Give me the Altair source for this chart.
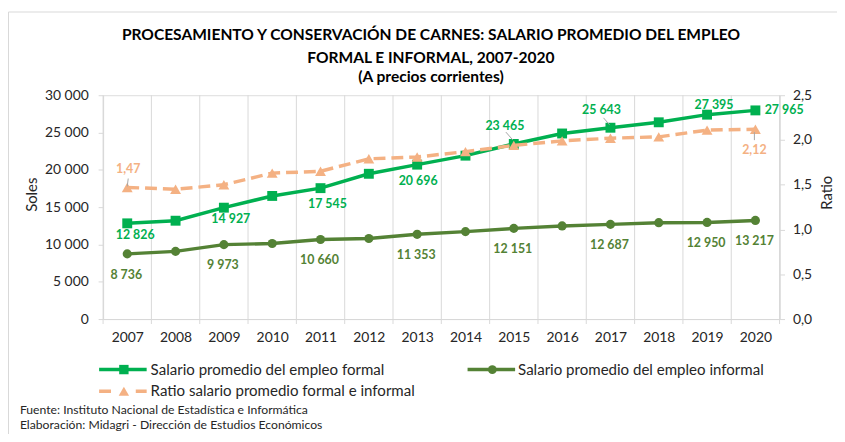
import altair as alt
import pandas as pd

# ---------------- data ----------------
years = list(range(2007, 2021))
formal = [12826, 13180, 14927, 16500, 17545, 19470, 20696, 21900, 23465, 24870, 25643, 26370, 27395, 27965]
informal = [8736, 9070, 9973, 10130, 10660, 10800, 11353, 11720, 12151, 12480, 12687, 12920, 12950, 13217]
ratio = [1.47, 1.45, 1.50, 1.63, 1.65, 1.79, 1.81, 1.87, 1.94, 1.99, 2.02, 2.035, 2.11, 2.12]

formal_labeled = [2007, 2009, 2011, 2013, 2015, 2017, 2019, 2020]
informal_labeled = [2007, 2009, 2011, 2013, 2015, 2017, 2019, 2020]
ratio_labeled = [2007, 2020]

left_ticks = [0, 5000, 10000, 15000, 20000, 25000, 30000]
right_ticks = [0, 0.5, 1.0, 1.5, 2.0, 2.5]

title_lines = [
    "PROCESAMIENTO Y CONSERVACIÓN DE CARNES: SALARIO PROMEDIO DEL EMPLEO",
    "FORMAL E INFORMAL, 2007-2020",
    "(A precios corrientes)",
]
legend_labels = [
    "Salario promedio del empleo formal",
    "Salario promedio del empleo informal",
    "Ratio salario promedio formal e informal",
]
footer_lines = [
    "Fuente: Instituto Nacional de Estadística e Informática",
    "Elaboración: Midagri - Dirección de Estudios Económicos",
]

# ---------------- styles ----------------
GREEN = "#00B050"
OLIVE = "#548235"
ORANGE = "#F4B183"
GRID = "#D9D9D9"
LEADER = "#A6A6A6"
TEXT = "#262626"
FONT = "Lato"
W, H = 683, 226

formal_off = {2007: (8, 12), 2009: (7, 11), 2011: (7, 16), 2013: (1, 17),
              2015: (-9, -18), 2017: (-9, -18), 2019: (7, -10), 2020: (29, 0)}
informal_off = {y: (-1, 21) for y in informal_labeled}
ratio_off = {2007: (1, -19), 2020: (-1, 21)}

# ---------------- tables ----------------
df = pd.DataFrame({"year": years, "formal": formal, "informal": informal, "ratio": ratio})
df["formal_lbl"] = [f"{v:,}".replace(",", " ") for v in formal]
df["informal_lbl"] = [f"{v:,}".replace(",", " ") for v in informal]
df["ratio_lbl"] = [f"{v:.2f}".replace(".", ",") for v in ratio]
bounds = pd.DataFrame({"year": [y - 0.5 for y in years] + [years[-1] + 0.5]})
one = pd.DataFrame({"k": [0]})

xscale = alt.Scale(domain=[years[0] - 0.5, years[-1] + 0.5], nice=False, zero=False)
xaxis = alt.Axis(values=years, format="d", grid=False, ticks=False, domain=True,
                 domainColor=GRID, labelFont=FONT, labelFontSize=14, labelColor=TEXT,
                 labelPadding=12, title=None)
X = alt.X("year:Q", scale=xscale, axis=xaxis)

left_axis = alt.Axis(values=left_ticks, grid=False, tickSize=5, tickColor=GRID, domainColor=GRID,
                     labelExpr="replace(format(datum.value, ','), ',', ' ')",
                     labelFont=FONT, labelFontSize=14, labelColor=TEXT, labelPadding=10,
                     title="Soles", titleFont=FONT, titleFontSize=15, titleFontWeight="normal",
                     titleColor=TEXT, titleX=-72, titleY=100, titleAngle=270,
                     titleAlign="center", titleBaseline="middle")
right_axis = alt.Axis(values=right_ticks, orient="right", grid=False, tickSize=5, tickColor=GRID,
                      domainColor=GRID,
                      labelExpr="replace(format(datum.value, '.1f'), '.', ',')",
                      labelFont=FONT, labelFontSize=14, labelColor=TEXT, labelPadding=8,
                      title="Ratio", titleFont=FONT, titleFontSize=15, titleFontWeight="normal",
                      titleColor=TEXT, titleX=47, titleY=98, titleAngle=270,
                      titleAlign="center", titleBaseline="middle")
lscale = alt.Scale(domain=[0, 30000], nice=False)
rscale = alt.Scale(domain=[0, 2.5], nice=False)


def YL(field):
    return alt.Y(f"{field}:Q", scale=lscale, axis=left_axis)


def YR(field):
    return alt.Y(f"{field}:Q", scale=rscale, axis=right_axis)


base = alt.Chart(df)

# gridlines and x ticks at category boundaries
grid = alt.Chart(bounds).mark_rule(color=GRID, strokeWidth=1).encode(x=X)
xticks = alt.Chart(bounds).mark_rule(color=GRID, strokeWidth=1).encode(
    x=X, y=alt.value(H), y2=alt.value(H + 5))

left_layers = [grid, xticks]

# formal series
left_layers.append(base.mark_line(color=GREEN, strokeWidth=3.5).encode(x=X, y=YL("formal")))
left_layers.append(base.mark_point(shape="square", filled=True, opacity=1, size=100, color=GREEN)
                   .encode(x=X, y=YL("formal")))
# informal series
left_layers.append(base.mark_line(color=OLIVE, strokeWidth=3.5).encode(x=X, y=YL("informal")))
left_layers.append(base.mark_point(shape="circle", filled=True, opacity=1, size=85, color=OLIVE)
                   .encode(x=X, y=YL("informal")))

# leader lines for some formal labels
for yr, (a, b, c, d) in {2015: (-8, -12, -1, -4), 2017: (-7, -10, -1, -3)}.items():
    left_layers.append(
        base.transform_filter(alt.datum.year == yr)
        .mark_rule(color=LEADER, strokeWidth=1, xOffset=a, yOffset=b, x2Offset=c, y2Offset=d)
        .encode(x=X, y=YL("formal"), x2=alt.X2("year"), y2=alt.Y2("formal")))

for yr in formal_labeled:
    dx, dy = formal_off[yr]
    left_layers.append(
        base.transform_filter(alt.datum.year == yr)
        .mark_text(font=FONT, fontSize=12.5, fontWeight="bold", color=GREEN, dx=dx, dy=dy,
                   align="center", baseline="middle")
        .encode(x=X, y=YL("formal"), text="formal_lbl:N"))
for yr in informal_labeled:
    dx, dy = informal_off[yr]
    left_layers.append(
        base.transform_filter(alt.datum.year == yr)
        .mark_text(font=FONT, fontSize=12.5, fontWeight="bold", color=OLIVE, dx=dx, dy=dy,
                   align="center", baseline="middle")
        .encode(x=X, y=YL("informal"), text="informal_lbl:N"))


def deco_text(txt, x, y, size, weight="normal", align="left", color=TEXT):
    return alt.Chart(one).mark_text(font=FONT, fontSize=size, fontWeight=weight, color=color,
                                    align=align, baseline="middle").encode(
        x=alt.value(x), y=alt.value(y), text=alt.value(txt))


# chart border (left & top)
left_layers.append(alt.Chart(one).mark_rule(color=GRID, strokeWidth=1).encode(
    x=alt.value(-95.5), y=alt.value(-84), y2=alt.value(400)))
left_layers.append(alt.Chart(one).mark_rule(color=GRID, strokeWidth=1).encode(
    x=alt.value(-95.5), x2=alt.value(760), y=alt.value(-84)))

# title
for txt, yy in zip(title_lines, [-61, -38, -18]):
    left_layers.append(deco_text(txt, 331, yy, 15.7, "bold", "center", "#000000"))

# legend
LY1, LY2 = 277, 299
left_layers.append(alt.Chart(one).mark_rule(color=GREEN, strokeWidth=3.5).encode(
    x=alt.value(-4), x2=alt.value(44), y=alt.value(LY1)))
left_layers.append(alt.Chart(one).mark_point(shape="square", filled=True, opacity=1, size=90,
                                             color=GREEN).encode(x=alt.value(21), y=alt.value(LY1)))
left_layers.append(deco_text(legend_labels[0], 48, LY1, 15.2))
left_layers.append(alt.Chart(one).mark_rule(color=OLIVE, strokeWidth=3.5).encode(
    x=alt.value(368), x2=alt.value(416), y=alt.value(LY1)))
left_layers.append(alt.Chart(one).mark_point(shape="circle", filled=True, opacity=1, size=80,
                                             color=OLIVE).encode(x=alt.value(393), y=alt.value(LY1)))
left_layers.append(deco_text(legend_labels[1], 419, LY1, 15.2))
left_layers.append(alt.Chart(one).mark_rule(color=ORANGE, strokeWidth=3.5, strokeDash=[12, 25]).encode(
    x=alt.value(-4), x2=alt.value(44), y=alt.value(LY2)))
left_layers.append(alt.Chart(one).mark_point(shape="triangle-up", filled=True, opacity=1, size=110,
                                             color=ORANGE).encode(x=alt.value(21), y=alt.value(LY2)))
left_layers.append(deco_text(legend_labels[2], 48, LY2, 15.2))

# footer
for txt, yy in zip(footer_lines, [318, 333.5]):
    left_layers.append(deco_text(txt, -84, yy, 12.3))

left = alt.layer(*left_layers)

# ratio series (right axis)
right_layers = [
    base.mark_line(color=ORANGE, strokeWidth=3.5, strokeDash=[12, 6]).encode(x=X, y=YR("ratio")),
    base.mark_point(shape="triangle-up", filled=True, opacity=1, size=120, color=ORANGE)
    .encode(x=X, y=YR("ratio")),
]
for yr, (a, b, c, d) in {2007: (1, -9, 0, -1), 2020: (-1, 3, -1, 11)}.items():
    right_layers.append(
        base.transform_filter(alt.datum.year == yr)
        .mark_rule(color=LEADER, strokeWidth=1, xOffset=a, yOffset=b, x2Offset=c, y2Offset=d)
        .encode(x=X, y=YR("ratio"), x2=alt.X2("year"), y2=alt.Y2("ratio")))
for yr in ratio_labeled:
    dx, dy = ratio_off[yr]
    right_layers.append(
        base.transform_filter(alt.datum.year == yr)
        .mark_text(font=FONT, fontSize=12.5, fontWeight="bold", color=ORANGE, dx=dx, dy=dy,
                   align="center", baseline="middle")
        .encode(x=X, y=YR("ratio"), text="ratio_lbl:N"))
right = alt.layer(*right_layers)

chart = (
    alt.layer(left, right)
    .resolve_scale(y="independent")
    .properties(width=W, height=H, autosize="none",
                padding={"left": 96, "top": 86, "right": 58, "bottom": 114})
    .configure_view(stroke=GRID, strokeWidth=1)
    .configure(background="white")
)

chart.save("out.html", embed_options={"renderer": "svg", "actions": False})
